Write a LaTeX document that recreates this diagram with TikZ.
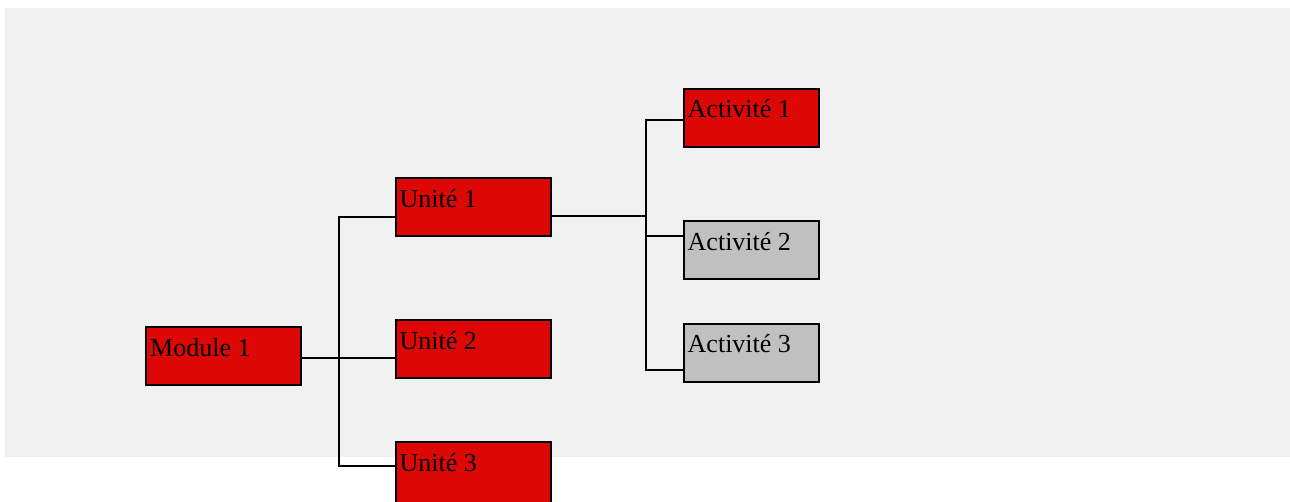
\documentclass[tikz,border=0pt]{standalone}
\usepackage{fontspec}
\setmainfont{Liberation Serif}
\definecolor{boxred}{RGB}{221,8,6}
\definecolor{boxgray}{RGB}{192,192,192}
\definecolor{bggray}{RGB}{241,241,241}
\begin{document}
\begin{tikzpicture}[x=1pt,y=-1pt,
  box/.style={draw=black, line width=2pt, rectangle, inner sep=0pt, outer sep=0pt,
    anchor=north west, minimum width=155pt, minimum height=58pt},
  redbox/.style={box, fill=boxred},
  greybox/.style={box, fill=boxgray},
  actbox/.style={minimum width=135pt},
  txt/.style={label={[anchor=base west, inner sep=0pt, font=\fontsize{26}{30}\selectfont,
    shift={(4pt,-29pt)}]north west:#1}},
  conn/.style={line width=2pt, line cap=rect}]
\useasboundingbox (0,0) rectangle (1290,501);
\clip (0,0) rectangle (1290,501);
\fill[bggray] (5,8) rectangle (1290,457);

% boxes
\node[redbox, txt={Module 1}] (m1) at (146,327) {};
\node[redbox, txt={Unité 1}] (u1) at (395.5,178) {};
\node[redbox, txt={Unité 2}] (u2) at (395.5,320) {};
\node[redbox, minimum height=80pt, txt={Unité 3}] (u3) at (395.5,442) {};
\node[redbox, actbox, txt={Activité 1}] (a1) at (683.5,88.5) {};
\node[greybox, actbox, txt={Activité 2}] (a2) at (683.5,221) {};
\node[greybox, actbox, txt={Activité 3}] (a3) at (683.5,323.5) {};

% first level connectors
\coordinate (j0) at (338.5,358);
\coordinate (j1) at (338.5,216.5);
\coordinate (j3) at (338.5,466);
\draw[conn] (j1) -- (j3);
\draw[conn] (m1.east |- j0) -- (j0);
\draw[conn] (j1) -- (u1.west |- j1);
\draw[conn] (j0) -- (u2.west |- j0);
\draw[conn] (j3) -- (u3.west |- j3);

% second level connectors
\coordinate (k0) at (645.5,216);
\coordinate (k1) at (645.5,120);
\coordinate (k2) at (645.5,235.5);
\coordinate (k3) at (645.5,370);
\draw[conn] (k1) -- (k3);
\draw[conn] (u1.east |- k0) -- (k0);
\draw[conn] (k1) -- (a1.west |- k1);
\draw[conn] (k2) -- (a2.west |- k2);
\draw[conn] (k3) -- (a3.west |- k3);
\end{tikzpicture}
\end{document}
